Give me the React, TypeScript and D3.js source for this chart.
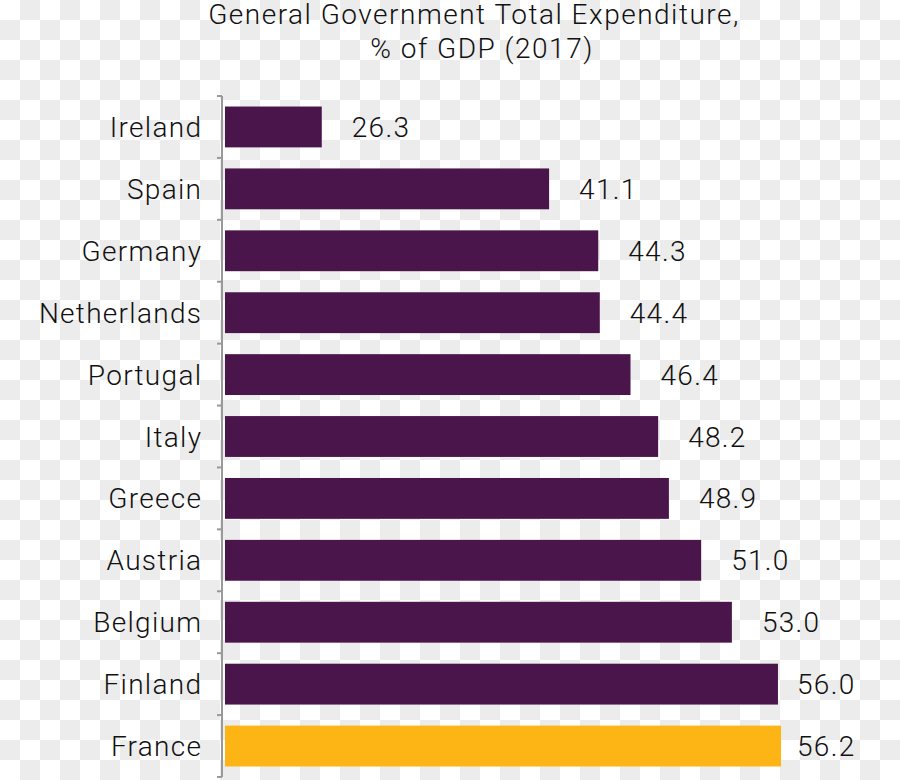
import React from "react";
import * as d3 from "d3";

const countries = ["Ireland","Spain","Germany","Netherlands","Portugal","Italy","Greece","Austria","Belgium","Finland","France"];
const values = [26.3,41.1,44.3,44.4,46.4,48.2,48.9,51.0,53.0,56.0,56.2];
const highlight = ["France"];
const titleLines = ["General Government Total Expenditure,", "% of GDP (2017)"];

const W = 900, H = 780;
const FONT = "Roboto, 'Noto Sans', sans-serif";

export default function App() {
  const x = d3.scaleLinear().domain([20, 60]).range([225, 225 + 40 * 15.36]);
  const y = d3.scaleBand<string>().domain(countries).range([96, 777]).paddingInner(0.34).paddingOuter(0.17);
  const step = y.step();
  const top = 96;
  const ticks = d3.range(countries.length + 1).map(i => top + i * step);
  return (
    <svg width={W} height={H} style={{ position: "absolute", left: 0, top: 0 }} fontFamily={FONT}>
      <defs>
        <pattern id="chk" width={40} height={40} patternUnits="userSpaceOnUse">
          <rect width={40} height={40} fill="#ffffff" />
          <rect x={20} y={0} width={20} height={20} fill="#ececec" />
          <rect x={0} y={20} width={20} height={20} fill="#ececec" />
        </pattern>
      </defs>
      <rect width={W} height={H} fill="url(#chk)" />
      <text x={474} y={24} textAnchor="middle" fontSize={28} fontWeight={300} letterSpacing={1.5} fill="#111">{titleLines[0]}</text>
      <text x={482} y={58} textAnchor="middle" fontSize={28} fontWeight={300} letterSpacing={1.5} fill="#111">{titleLines[1]}</text>
      {countries.map((c, i) => {
        const v = values[i];
        const yy = y(c)!;
        const bw = y.bandwidth();
        const end = x(v);
        const lx = Math.min(end + 30, 797);
        return (
          <g key={c}>
            <rect x={x(20)} y={yy} width={end - x(20)} height={bw} fill={highlight.includes(c) ? "#fdb515" : "#4a154b"} />
            <text x={202.3} y={yy + bw / 2} dy="0.36em" textAnchor="end" fontSize={28} fontWeight={300} letterSpacing={1.3} fill="#111">{c}</text>
            <text x={lx} y={yy + bw / 2} dy="0.36em" fontSize={28} fontWeight={300} letterSpacing={1.3} fill="#111">{v.toFixed(1)}</text>
          </g>
        );
      })}
      <line x1={222} x2={222} y1={top} y2={top + step * countries.length} stroke="#999" strokeWidth={2} />
      {ticks.map((t, i) => (
        <line key={i} x1={217} x2={222} y1={t} y2={t} stroke="#999" strokeWidth={2} />
      ))}
    </svg>
  );
}
